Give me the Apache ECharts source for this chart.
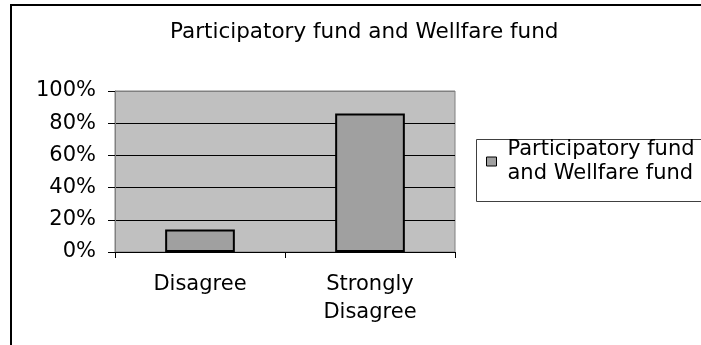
<!DOCTYPE html>
<html>
<head>
<meta charset="utf-8">
<script src="https://cdn.jsdelivr.net/npm/echarts@6/dist/echarts.min.js"></script>
<style>
  html, body { margin: 0; padding: 0; background: #fff; overflow: hidden; }
  #chart { width: 701px; height: 345px; }
</style>
</head>
<body>
<div id="chart"></div>
<script>
const titleText = 'Participatory fund and Wellfare fund';
const seriesName = 'Participatory fund and Wellfare fund';
const categories = ['Disagree', 'Strongly Disagree'];
const values = [0.14, 0.86];
const yMin = 0;
const yMax = 1;
const yInterval = 0.2;

const FONT = 'DejaVu Sans';
const chart = echarts.init(document.getElementById('chart'), null, { renderer: 'canvas' });

chart.setOption({
  animation: false,
  backgroundColor: '#fff',
  title: {
    text: titleText,
    left: 170,
    top: 21,
    padding: 0,
    textStyle: { fontFamily: FONT, fontSize: 21.5, fontWeight: 'normal', color: '#000' }
  },
  graphic: [
    {
      type: 'line', z: 0,
      shape: { x1: 11, y1: 4, x2: 11, y2: 400 },
      style: { stroke: '#000', lineWidth: 2 }
    },
    {
      type: 'line', z: 0,
      shape: { x1: 10, y1: 5, x2: 760, y2: 5 },
      style: { stroke: '#000', lineWidth: 2 }
    },
    {
      type: 'rect', z: 1,
      shape: { x: 476.5, y: 139.5, width: 300, height: 62 },
      style: { fill: '#fff', stroke: '#404040', lineWidth: 1 }
    }
  ],
  legend: {
    left: 486,
    top: 130,
    padding: 0,
    itemWidth: 10,
    itemHeight: 9,
    selectedMode: false,
    icon: 'rect',
    itemStyle: { borderColor: '#000', borderWidth: 1 },
    formatter: function (name) { return name.replace(' and ', '\nand '); },
    textStyle: { fontFamily: FONT, fontSize: 21, color: '#000', lineHeight: 24, padding: [15, 0, 0, 6] },
    data: [seriesName]
  },
  grid: {
    left: 115, top: 91, width: 340, height: 161,
    show: true,
    backgroundColor: '#C0C0C0',
    borderColor: '#808080',
    borderWidth: 1,
    containLabel: false,
    outerBoundsMode: 'none'
  },
  xAxis: {
    type: 'category',
    data: categories,
    axisLine: { show: true, lineStyle: { color: '#000', width: 1 } },
    axisTick: { show: true, length: 6, lineStyle: { color: '#000' } },
    axisLabel: {
      fontFamily: FONT, fontSize: 21, color: '#000', lineHeight: 28, margin: 19,
      interval: 0,
      formatter: function (v) { return v.replace(' ', '\n'); }
    }
  },
  yAxis: {
    type: 'value',
    min: yMin, max: yMax, interval: yInterval,
    axisLine: { show: true, lineStyle: { color: '#808080', width: 1 } },
    axisTick: { show: true, length: 7, lineStyle: { color: '#000' } },
    axisLabel: {
      fontFamily: FONT, fontSize: 21, color: '#000', margin: 19,
      formatter: function (v) { return Math.round(v * 100) + '%'; }
    },
    splitLine: {
      show: true,
      lineStyle: { color: ['#000', '#000', '#000', '#000', '#000', '#808080'], width: 1 }
    }
  },
  series: [{
    name: seriesName,
    type: 'bar',
    data: values,
    barWidth: '41%',
    itemStyle: { color: '#A0A0A0', borderColor: '#000', borderWidth: 2 }
  }]
});
</script>
</body>
</html>
